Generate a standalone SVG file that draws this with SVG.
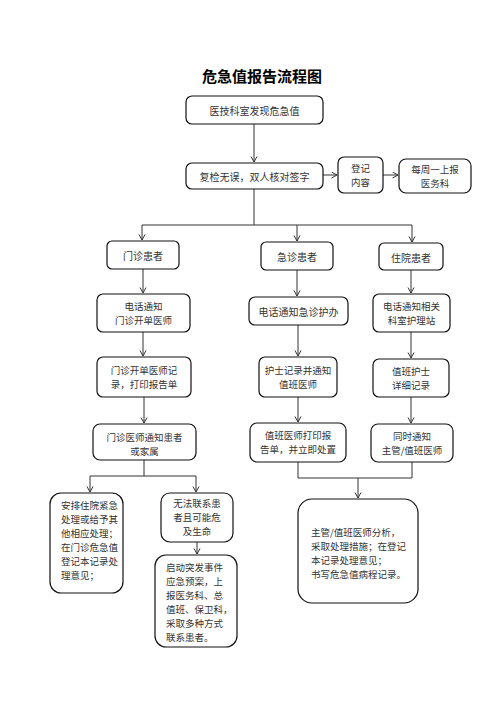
<svg xmlns="http://www.w3.org/2000/svg" width="496" height="702" viewBox="0 0 496 702">
<style>
.b{fill:#fff;stroke:#111;stroke-width:1.2}
.t{font-family:"Noto Sans CJK SC","Noto Sans CJK JP",sans-serif;font-size:10px;fill:#333;text-anchor:middle;dominant-baseline:central}
.m{font-size:9.5px}
.l{text-anchor:start}
.c{fill:none;stroke:#333;stroke-width:1}
</style>
<defs>
<marker id="a" markerWidth="8" markerHeight="8" refX="6" refY="3.5" orient="auto" markerUnits="userSpaceOnUse">
<path d="M0.5,0.5 L6,3.5 L0.5,6.5" fill="none" stroke="#333" stroke-width="1"/>
</marker>
</defs>
<rect width="496" height="702" fill="#fff"/>
<text x="262" y="75" font-family="'Noto Sans CJK SC',sans-serif" font-size="15" font-weight="bold" text-anchor="middle" dominant-baseline="central" fill="#000">危急值报告流程图</text>
<g id="connectors">
<path class="c" d="M254,124 V162" marker-end="url(#a)"/>
<path class="c" d="M323,175 H337" marker-end="url(#a)"/>
<path class="c" d="M383,175 H398" marker-end="url(#a)"/>
<path class="c" d="M254,189 V225 M142,225 H412"/>
<path class="c" d="M142,225 V240" marker-end="url(#a)"/>
<path class="c" d="M297,225 V241" marker-end="url(#a)"/>
<path class="c" d="M412,225 V242" marker-end="url(#a)"/>
<path class="c" d="M143,269 V293" marker-end="url(#a)"/>
<path class="c" d="M297,270 V296" marker-end="url(#a)"/>
<path class="c" d="M411,270 V293" marker-end="url(#a)"/>
<path class="c" d="M143,332 V356" marker-end="url(#a)"/>
<path class="c" d="M298,325 V356" marker-end="url(#a)"/>
<path class="c" d="M411,332 V358" marker-end="url(#a)"/>
<path class="c" d="M144,397 V423" marker-end="url(#a)"/>
<path class="c" d="M298,397 V422" marker-end="url(#a)"/>
<path class="c" d="M411,397 V423" marker-end="url(#a)"/>
<path class="c" d="M144,460 V476 M90,476 H196"/>
<path class="c" d="M90,476 V492" marker-end="url(#a)"/>
<path class="c" d="M196,476 V492" marker-end="url(#a)"/>
<path class="c" d="M197,542 V554" marker-end="url(#a)"/>
<path class="c" d="M298,462 V478 H412 V462"/>
<path class="c" d="M358,478 V498" marker-end="url(#a)"/>
</g>
<g id="n1"><rect class="b" x="186" y="96" width="137" height="28" rx="6"/><text class="t" x="254.5" y="110">医技科室发现危急值</text></g>
<g id="n2"><rect class="b" x="186" y="163" width="137" height="26" rx="6"/><text class="t" x="254.5" y="176">复检无误，双人核对签字</text></g>
<g id="n3"><rect class="b" x="338" y="157" width="45" height="36" rx="6"/><text class="t m" x="360.5" y="168">登记</text><text class="t m" x="360.5" y="182">内容</text></g>
<g id="n4"><rect class="b" x="399" y="159" width="72" height="34" rx="7"/><text class="t m" x="435" y="169">每周一上报</text><text class="t m" x="435" y="183">医务科</text></g>
<g id="n5"><rect class="b" x="107" y="241" width="72" height="28" rx="5"/><text class="t" x="143" y="255">门诊患者</text></g>
<g id="n6"><rect class="b" x="261" y="242" width="72" height="28" rx="5"/><text class="t" x="297" y="256">急诊患者</text></g>
<g id="n7"><rect class="b" x="379" y="243" width="64" height="27" rx="5"/><text class="t" x="411" y="257">住院患者</text></g>
<g id="n8"><rect class="b" x="97" y="294" width="93" height="38" rx="6"/><text class="t m" x="143.5" y="306">电话通知</text><text class="t m" x="143.5" y="320">门诊开单医师</text></g>
<g id="n9"><rect class="b" x="249" y="297" width="99" height="28" rx="6"/><text class="t" x="298.5" y="311">电话通知急诊护办</text></g>
<g id="n10"><rect class="b" x="373" y="294" width="77" height="38" rx="6"/><text class="t m" x="411.5" y="306">电话通知相关</text><text class="t m" x="411.5" y="320">科室护理站</text></g>
<g id="n11"><rect class="b" x="97" y="357" width="94" height="40" rx="6"/><text class="t m" x="144" y="370">门诊开单医师记</text><text class="t m" x="144" y="384">录，打印报告单</text></g>
<g id="n12"><rect class="b" x="259" y="357" width="78" height="40" rx="6"/><text class="t m" x="298" y="370">护士记录并通知</text><text class="t m" x="298" y="384">值班医师</text></g>
<g id="n13"><rect class="b" x="373" y="359" width="76" height="38" rx="6"/><text class="t m" x="411" y="371">值班护士</text><text class="t m" x="411" y="385">详细记录</text></g>
<g id="n14"><rect class="b" x="93" y="424" width="103" height="36" rx="7"/><text class="t m" x="144.5" y="437">门诊医师通知患者</text><text class="t m" x="144.5" y="451">或家属</text></g>
<g id="n15"><rect class="b" x="250" y="423" width="96" height="39" rx="7"/><text class="t m" x="298" y="435">值班医师打印报</text><text class="t m" x="298" y="449">告单，并立即处置</text></g>
<g id="n16"><rect class="b" x="371" y="424" width="82" height="38" rx="7"/><text class="t m" x="412" y="436">同时通知</text><text class="t m" x="412" y="450">主管/值班医师</text></g>
<g id="n17"><rect class="b" x="50" y="493" width="73" height="100" rx="11"/>
<text class="t m l" x="61" y="505">安排住院紧急</text><text class="t m l" x="61" y="519">处理或给予其</text><text class="t m l" x="61" y="533">他相应处理；</text><text class="t m l" x="61" y="547">在门诊危急值</text><text class="t m l" x="61" y="561">登记本记录处</text><text class="t m l" x="61" y="575">理意见；</text></g>
<g id="n18"><rect class="b" x="161" y="493" width="72" height="49" rx="9"/><text class="t m" x="197" y="503">无法联系患</text><text class="t m" x="197" y="517">者且可能危</text><text class="t m" x="197" y="531">及生命</text></g>
<g id="n19"><rect class="b" x="155" y="555" width="82" height="92" rx="11"/>
<text class="t m l" x="166" y="567">启动突发事件</text><text class="t m l" x="166" y="581">应急预案，上</text><text class="t m l" x="166" y="595">报医务科、总</text><text class="t m l" x="166" y="609">值班、保卫科，</text><text class="t m l" x="166" y="623">采取多种方式</text><text class="t m l" x="166" y="637">联系患者。</text></g>
<g id="n20"><rect class="b" x="298" y="499" width="120" height="104" rx="14"/>
<text class="t m l" x="311" y="532">主管/值班医师分析，</text><text class="t m l" x="311" y="546">采取处理措施；在登记</text><text class="t m l" x="311" y="560">本记录处理意见；</text><text class="t m l" x="311" y="574">书写危急值病程记录。</text></g>
</svg>
